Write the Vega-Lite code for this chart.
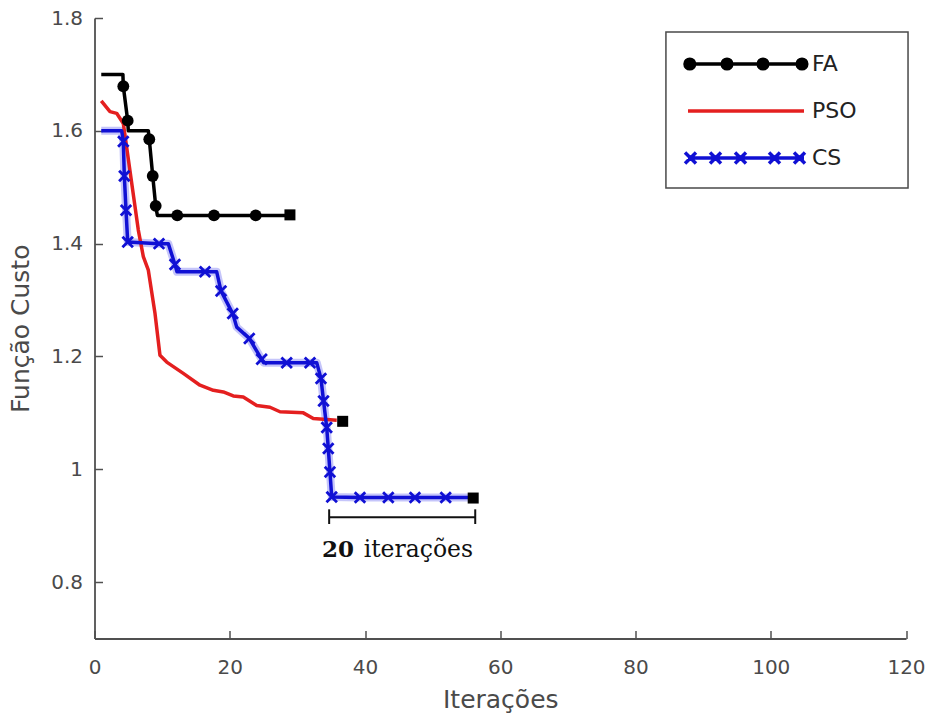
{
  "$schema": "https://vega.github.io/schema/vega-lite/v6.json",
  "width": 811.5,
  "height": 620.5,
  "autosize": {"type": "none"},
  "padding": {"left": 94.5, "top": 18, "right": 26, "bottom": 74.5},
  "background": "white",
  "config": {
    "view": {"stroke": null},
    "font": "DejaVu Sans",
    "axis": {
      "grid": false,
      "domainColor": "#505050",
      "domainWidth": 1.8,
      "tickColor": "#505050",
      "tickWidth": 1.5,
      "tickSize": -8,
      "labelFlush": false,
      "labelFont": "DejaVu Sans",
      "labelFontSize": 20,
      "labelColor": "#4a4a4a",
      "titleFont": "DejaVu Sans",
      "titleFontSize": 25,
      "titleFontWeight": "normal",
      "titleColor": "#4a4a4a"
    }
  },
  "datasets": {
    "curves": [
      {"series": "FA", "iter": 1, "cost": 1.70, "marker": false},
      {"series": "FA", "iter": 4.2, "cost": 1.70, "marker": false},
      {"series": "FA", "iter": 4.26, "cost": 1.679, "marker": true},
      {"series": "FA", "iter": 4.91, "cost": 1.618, "marker": true},
      {"series": "FA", "iter": 5.0, "cost": 1.60, "marker": false},
      {"series": "FA", "iter": 7.96, "cost": 1.60, "marker": false},
      {"series": "FA", "iter": 8.10, "cost": 1.585, "marker": true},
      {"series": "FA", "iter": 8.61, "cost": 1.520, "marker": true},
      {"series": "FA", "iter": 9.05, "cost": 1.467, "marker": true},
      {"series": "FA", "iter": 9.3, "cost": 1.45, "marker": false},
      {"series": "FA", "iter": 12.24, "cost": 1.45, "marker": true},
      {"series": "FA", "iter": 17.67, "cost": 1.45, "marker": true},
      {"series": "FA", "iter": 23.84, "cost": 1.45, "marker": true},
      {"series": "FA", "iter": 28.9, "cost": 1.45, "marker": false},

      {"series": "PSO", "iter": 1, "cost": 1.653, "marker": false},
      {"series": "PSO", "iter": 2.29, "cost": 1.634, "marker": false},
      {"series": "PSO", "iter": 3.28, "cost": 1.631, "marker": false},
      {"series": "PSO", "iter": 4.26, "cost": 1.613, "marker": false},
      {"series": "PSO", "iter": 6.48, "cost": 1.424, "marker": false},
      {"series": "PSO", "iter": 7.22, "cost": 1.377, "marker": false},
      {"series": "PSO", "iter": 7.96, "cost": 1.353, "marker": false},
      {"series": "PSO", "iter": 8.95, "cost": 1.276, "marker": false},
      {"series": "PSO", "iter": 9.68, "cost": 1.202, "marker": false},
      {"series": "PSO", "iter": 10.68, "cost": 1.190, "marker": false},
      {"series": "PSO", "iter": 13.13, "cost": 1.170, "marker": false},
      {"series": "PSO", "iter": 15.60, "cost": 1.149, "marker": false},
      {"series": "PSO", "iter": 17.57, "cost": 1.140, "marker": false},
      {"series": "PSO", "iter": 19.05, "cost": 1.137, "marker": false},
      {"series": "PSO", "iter": 20.52, "cost": 1.130, "marker": false},
      {"series": "PSO", "iter": 22.00, "cost": 1.128, "marker": false},
      {"series": "PSO", "iter": 23.99, "cost": 1.113, "marker": false},
      {"series": "PSO", "iter": 25.95, "cost": 1.110, "marker": false},
      {"series": "PSO", "iter": 27.43, "cost": 1.102, "marker": false},
      {"series": "PSO", "iter": 30.88, "cost": 1.100, "marker": false},
      {"series": "PSO", "iter": 32.35, "cost": 1.090, "marker": false},
      {"series": "PSO", "iter": 35.82, "cost": 1.087, "marker": false},

      {"series": "CS", "iter": 1, "cost": 1.60, "marker": false},
      {"series": "CS", "iter": 4.02, "cost": 1.60, "marker": false},
      {"series": "CS", "iter": 4.26, "cost": 1.581, "marker": true},
      {"series": "CS", "iter": 4.41, "cost": 1.520, "marker": true},
      {"series": "CS", "iter": 4.66, "cost": 1.459, "marker": true},
      {"series": "CS", "iter": 4.91, "cost": 1.403, "marker": true},
      {"series": "CS", "iter": 9.54, "cost": 1.400, "marker": true},
      {"series": "CS", "iter": 10.91, "cost": 1.400, "marker": false},
      {"series": "CS", "iter": 11.90, "cost": 1.363, "marker": true},
      {"series": "CS", "iter": 12.2, "cost": 1.350, "marker": false},
      {"series": "CS", "iter": 16.34, "cost": 1.350, "marker": true},
      {"series": "CS", "iter": 18.07, "cost": 1.350, "marker": false},
      {"series": "CS", "iter": 18.71, "cost": 1.316, "marker": true},
      {"series": "CS", "iter": 20.44, "cost": 1.276, "marker": true},
      {"series": "CS", "iter": 21.03, "cost": 1.252, "marker": false},
      {"series": "CS", "iter": 22.89, "cost": 1.232, "marker": true},
      {"series": "CS", "iter": 24.72, "cost": 1.195, "marker": true},
      {"series": "CS", "iter": 25.0, "cost": 1.189, "marker": false},
      {"series": "CS", "iter": 28.42, "cost": 1.189, "marker": true},
      {"series": "CS", "iter": 31.87, "cost": 1.189, "marker": true},
      {"series": "CS", "iter": 32.86, "cost": 1.189, "marker": false},
      {"series": "CS", "iter": 33.49, "cost": 1.161, "marker": true},
      {"series": "CS", "iter": 33.87, "cost": 1.121, "marker": true},
      {"series": "CS", "iter": 34.34, "cost": 1.074, "marker": true},
      {"series": "CS", "iter": 34.57, "cost": 1.037, "marker": true},
      {"series": "CS", "iter": 34.82, "cost": 0.995, "marker": true},
      {"series": "CS", "iter": 35.08, "cost": 0.951, "marker": true},
      {"series": "CS", "iter": 39.26, "cost": 0.950, "marker": true},
      {"series": "CS", "iter": 43.45, "cost": 0.950, "marker": true},
      {"series": "CS", "iter": 47.39, "cost": 0.950, "marker": true},
      {"series": "CS", "iter": 51.93, "cost": 0.950, "marker": true},
      {"series": "CS", "iter": 56.0, "cost": 0.950, "marker": false}
    ],
    "ends": [
      {"series": "FA", "iter": 28.9, "cost": 1.451},
      {"series": "PSO", "iter": 36.7, "cost": 1.085},
      {"series": "CS", "iter": 56.0, "cost": 0.949}
    ],
    "span": [
      {"from": 34.7, "to": 56.3, "count": "20", "unit": "iterações"}
    ]
  },
  "layer": [
    {
      "data": {"name": "span"},
      "mark": {"type": "rect", "fill": "#ffffff", "stroke": "#4a4a4a", "strokeWidth": 1.5, "clip": false},
      "encoding": {
        "x": {"datum": 84.5, "type": "quantitative", "scale": {"domain": [0, 120], "nice": false, "zero": false}},
        "x2": {"datum": 120.3},
        "y": {"datum": 1.775, "type": "quantitative", "scale": {"domain": [0.7, 1.8], "nice": false, "zero": false}},
        "y2": {"datum": 1.4985}
      }
    },
    {
      "data": {"name": "curves"},
      "transform": [{"filter": "datum.series === 'CS'"}],
      "mark": {"type": "line", "color": "#5a5af2", "strokeWidth": 8, "opacity": 0.35, "strokeJoin": "round"},
      "encoding": {
        "x": {"field": "iter", "type": "quantitative"},
        "y": {"field": "cost", "type": "quantitative"}
      }
    },
    {
      "data": {"name": "curves"},
      "mark": {"type": "line", "strokeWidth": 3.5, "strokeJoin": "round"},
      "encoding": {
        "x": {
          "field": "iter",
          "type": "quantitative",
          "axis": {"title": "Iterações", "values": [0, 20, 40, 60, 80, 100, 120], "labelPadding": 26.5, "titlePadding": 10}
        },
        "y": {
          "field": "cost",
          "type": "quantitative",
          "axis": {"title": "Função Custo", "values": [0.8, 1, 1.2, 1.4, 1.6, 1.8], "format": "~g", "labelPadding": 20, "titlePadding": 17}
        },
        "color": {
          "field": "series",
          "type": "nominal",
          "scale": {"domain": ["FA", "PSO", "CS"], "range": ["#000000", "#e41f1f", "#1010d4"]},
          "legend": {
            "orient": "none",
            "legendX": 571.5,
            "legendY": 14,
            "title": null,
            "direction": "vertical",
            "padding": 20,
            "labelFont": "DejaVu Sans",
            "labelFontSize": 22,
            "labelColor": "#222222",
            "labelOffset": 102,
            "rowPadding": 23,
            "symbolSize": 400,
            "symbolStrokeWidth": 3.5,
            "encode": {
              "symbols": {
                "update": {
                  "shape": {"signal": "datum.value === 'FA' ? 'M-1,0H10.6M-1.3,0a0.48,0.48 0 1,0 0.96,0a0.48,0.48 0 1,0 -0.96,0M2.42,0a0.48,0.48 0 1,0 0.96,0a0.48,0.48 0 1,0 -0.96,0M6.02,0a0.48,0.48 0 1,0 0.96,0a0.48,0.48 0 1,0 -0.96,0M9.92,0a0.48,0.48 0 1,0 0.96,0a0.48,0.48 0 1,0 -0.96,0' : datum.value === 'CS' ? 'M-1,0H10.6M-1.3,-0.55L-0.2,0.55M-1.3,0.55L-0.2,-0.55M1.2,-0.55L2.3,0.55M1.2,0.55L2.3,-0.55M3.7,-0.55L4.8,0.55M3.7,0.55L4.8,-0.55M7.1,-0.55L8.2,0.55M7.1,0.55L8.2,-0.55M9.6,-0.55L10.7,0.55M9.6,0.55L10.7,-0.55' : 'M-1,0H10.6'"},
                  "fill": {"signal": "datum.value === 'FA' ? '#000000' : 'transparent'"},
                  "strokeWidth": {"value": 3.5}
                }
              }
            }
          }
        }
      }
    },
    {
      "data": {"name": "curves"},
      "transform": [{"filter": "datum.series === 'FA' && datum.marker"}],
      "mark": {"type": "point", "shape": "circle", "filled": true, "color": "#000000", "size": 140, "opacity": 1},
      "encoding": {
        "x": {"field": "iter", "type": "quantitative"},
        "y": {"field": "cost", "type": "quantitative"}
      }
    },
    {
      "data": {"name": "curves"},
      "transform": [{"filter": "datum.series === 'CS' && datum.marker"}],
      "mark": {"type": "point", "shape": "M-1,-1L1,1M-1,1L1,-1", "filled": false, "color": "#1010d4", "size": 110, "strokeWidth": 2.8, "opacity": 1},
      "encoding": {
        "x": {"field": "iter", "type": "quantitative"},
        "y": {"field": "cost", "type": "quantitative"}
      }
    },
    {
      "data": {"name": "ends"},
      "mark": {"type": "point", "shape": "square", "filled": true, "color": "#000000", "size": 121, "opacity": 1},
      "encoding": {
        "x": {"field": "iter", "type": "quantitative"},
        "y": {"field": "cost", "type": "quantitative"}
      }
    },
    {
      "data": {"name": "span"},
      "mark": {"type": "rule", "color": "#111111", "strokeWidth": 2},
      "encoding": {
        "x": {"field": "from", "type": "quantitative"},
        "x2": {"field": "to"},
        "y": {"datum": 0.9148, "type": "quantitative"}
      }
    },
    {
      "data": {"name": "span"},
      "mark": {"type": "rule", "color": "#111111", "strokeWidth": 2},
      "encoding": {
        "x": {"field": "from", "type": "quantitative"},
        "y": {"datum": 0.929, "type": "quantitative"},
        "y2": {"datum": 0.903}
      }
    },
    {
      "data": {"name": "span"},
      "mark": {"type": "rule", "color": "#111111", "strokeWidth": 2},
      "encoding": {
        "x": {"field": "to", "type": "quantitative"},
        "y": {"datum": 0.929, "type": "quantitative"},
        "y2": {"datum": 0.903}
      }
    },
    {
      "data": {"name": "span"},
      "mark": {"type": "text", "font": "DejaVu Serif", "fontWeight": "bold", "fontSize": 23, "align": "left", "baseline": "alphabetic", "color": "#111111"},
      "encoding": {
        "text": {"field": "count"},
        "x": {"datum": 33.64, "type": "quantitative"},
        "y": {"datum": 0.8444, "type": "quantitative"}
      }
    },
    {
      "data": {"name": "span"},
      "mark": {"type": "text", "font": "DejaVu Serif", "fontSize": 23.5, "align": "left", "baseline": "alphabetic", "color": "#111111"},
      "encoding": {
        "text": {"field": "unit"},
        "x": {"datum": 39.8, "type": "quantitative"},
        "y": {"datum": 0.8444, "type": "quantitative"}
      }
    }
  ]
}
